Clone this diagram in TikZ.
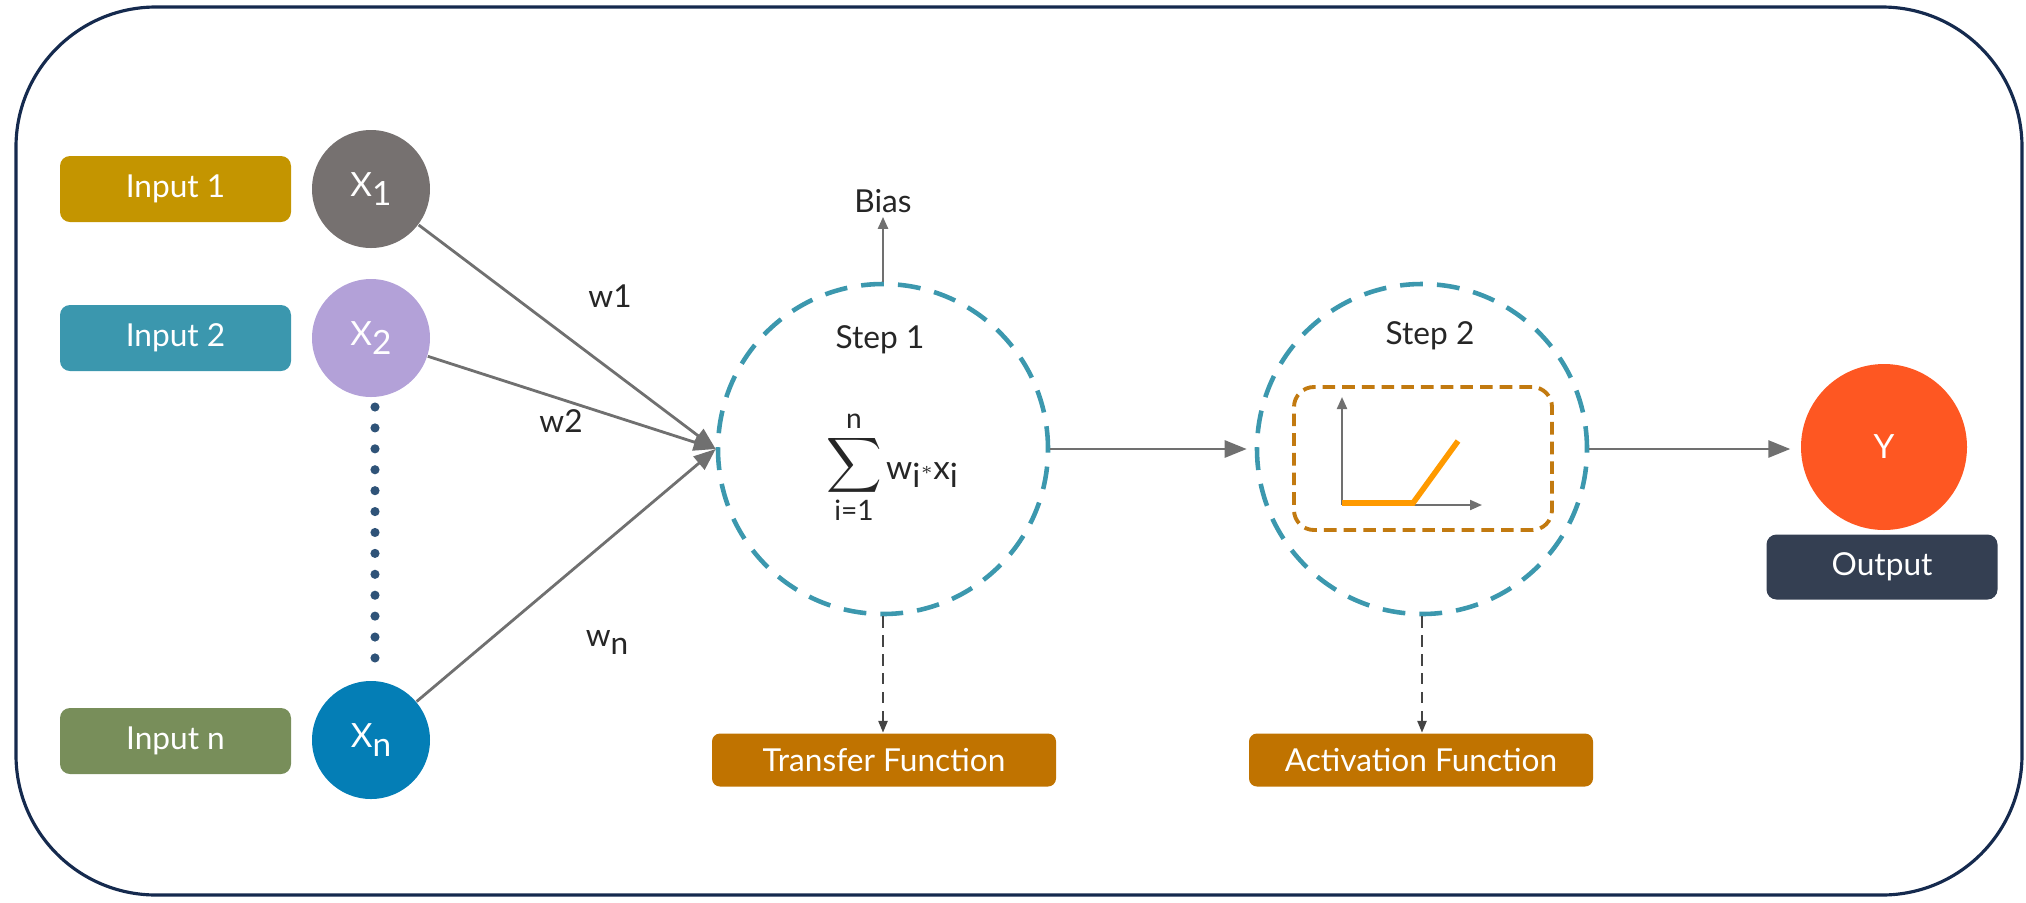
\documentclass[tikz,border=0pt]{standalone}
\usepackage{fontspec}
\setmainfont{Lato}
\usepackage{amsmath}
\usetikzlibrary{positioning}
\usetikzlibrary{calc}
\usetikzlibrary{arrows.meta}
\usetikzlibrary{shapes}

\definecolor{frameblue}{HTML}{152A4E}
\definecolor{inone}{HTML}{C49500}
\definecolor{intwo}{HTML}{3B97AE}
\definecolor{inlast}{HTML}{788E5A}
\definecolor{xone}{HTML}{767170}
\definecolor{xtwo}{HTML}{B3A1D8}
\definecolor{xlast}{HTML}{047EB6}
\definecolor{yred}{HTML}{FE5722}
\definecolor{outdark}{HTML}{343F52}
\definecolor{fnorange}{HTML}{C07300}
\definecolor{ringblue}{HTML}{3C98AE}
\definecolor{actline}{HTML}{FF9A00}
\definecolor{actbox}{HTML}{C27A10}
\definecolor{wiregrey}{HTML}{707070}
\definecolor{dashgrey}{HTML}{444444}
\definecolor{dotblue}{HTML}{2F5378}

\newcommand{\lowsub}[1]{\raisebox{-0.5ex}{#1}}

\begin{document}
\begin{tikzpicture}[scale=1,
  txt/.style={font=\fontsize{9}{11}\selectfont, text=black!85},
  inbox/.style={rounded corners=0.1cm, minimum width=2.31cm, minimum height=0.66cm, text=white, font=\fontsize{9}{11}\selectfont},
  xnode/.style={circle, minimum size=1.18cm, inner sep=0pt, text=white, font=\fontsize{9.5}{11}\selectfont},
  stepring/.style={circle, minimum size=3.3cm, draw=ringblue, line width=1.3pt, dash pattern=on 6.5pt off 4pt},
  fnbox/.style={fill=fnorange, rounded corners=0.08cm, minimum width=3.44cm, minimum height=0.53cm, text=white, font=\fontsize{9}{11}\selectfont},
  wire/.style={draw=wiregrey, line width=0.8pt, -{Triangle[length=0.22cm, width=0.17cm]}},
  dashwire/.style={draw=dashgrey, line width=0.7pt, dash pattern=on 3.2pt off 2.2pt, -{Triangle[length=0.12cm, width=0.09cm]}},
  axis/.style={draw=wiregrey, line width=0.6pt, -{Triangle[length=0.12cm, width=0.1cm]}}
]
\useasboundingbox (0,0) rectangle (20.26,9.02);

% outer frame
\draw [frameblue, line width=0.9pt, rounded corners=1.4cm] (0.16,0.07) rectangle (20.22,8.95);

% inputs
\node [inbox, fill=inone] (in1) at (1.755, 7.13) {Input 1};
\node [inbox, fill=intwo] (in2) at (1.755, 5.64) {Input 2};
\node [inbox, fill=inlast] (inn) at (1.755, 1.61) {Input n};

\node [xnode, fill=xone] (x1) at (3.71, 7.13) {X\lowsub{1}};
\node [xnode, fill=xtwo] (x2) at (3.71, 5.64) {X\lowsub{2}};
\node [xnode, fill=xlast] (xn) at (3.71, 1.62) {X\lowsub{n}};
\draw [dotblue, line width=2.6pt, line cap=round, dash pattern=on 0pt off 5.95pt] (3.75, 4.95) -- (3.75, 2.43);

% step 1
\node [stepring] (step1) at (8.83, 4.53) {};
\node [txt] (s1lab) at (8.80, 5.62) {Step 1};
\node [txt, inner sep=0pt, font=\fontsize{11}{11}\selectfont] (sigma) at (8.54, 4.37) {$\displaystyle\sum$};
\node [txt, inner sep=0pt, font=\fontsize{8}{9}\selectfont] (sigtop) at (8.54, 4.81) {n};
\node [txt, inner sep=0pt, font=\fontsize{8}{9}\selectfont] (sigbot) at (8.54, 3.92) {i=1};
\node [txt, font=\fontsize{9.5}{11}\selectfont] (wx) at (9.22, 4.27) {w\lowsub{i}\raisebox{0.3ex}{\tiny$*$}x\lowsub{i}};
\node [txt, inner sep=1pt] (bias) at (8.83, 7.01) {Bias};
\draw [axis, line width=0.7pt] (step1.north) -- (bias.south);

\draw [wire] (x1) -- (step1.west);
\draw [wire] (x2) -- (step1.west);
\draw [wire] (xn) -- (step1.west);
\node [txt] (w1) at (6.10, 6.06) {w1};
\node [txt] (w2) at (5.61, 4.81) {w2};
\node [txt] (wn) at (6.07, 2.60) {w\lowsub{n}};

% step 2
\node [stepring] (step2) at (14.22, 4.53) {};
\node [txt] (s2lab) at (14.30, 5.66) {Step 2};
\node [draw=actbox, line width=1.1pt, dash pattern=on 3.6pt off 2pt, rounded corners=0.2cm, minimum width=2.58cm, minimum height=1.43cm] (actf) at (14.23, 4.435) {};
\coordinate (orig) at (13.42, 3.97);
\draw [axis] (orig) -- ++(0, 1.08);
\draw [axis] (orig) -- ++(1.40, 0);
\draw [actline, line width=1.6pt] (13.42, 3.99) -- (14.13, 3.99) -- (14.58, 4.61);

\draw [wire] (step1.east) -- ([xshift=-0.08cm]step2.west);

% output
\node [xnode, fill=yred, minimum size=1.66cm] (yout) at (18.84, 4.55) {Y};
\node [inbox, fill=outdark, minimum height=0.65cm] (outbox) at (18.82, 3.35) {Output};
\draw [wire] (step2.east) -- ([xshift=-0.1cm]step2.east -| yout.west);

% functions
\node [fnbox] (transf) at (8.84, 1.42) {Transfer Function};
\node [fnbox] (actfn) at (14.21, 1.42) {Activation Function};
\draw [dashwire] (step1.south) -- (step1.south |- transf.north);
\draw [dashwire] (step2.south) -- (step2.south |- actfn.north);

\end{tikzpicture}
\end{document}
